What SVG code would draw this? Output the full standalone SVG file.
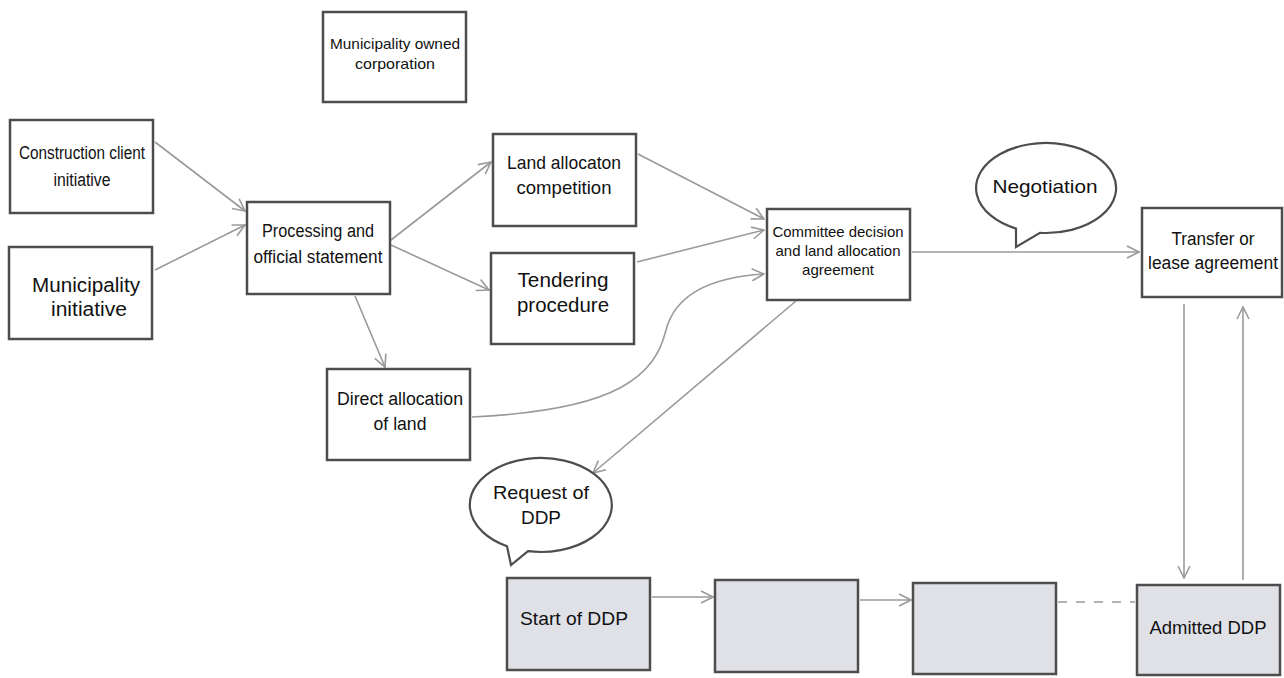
<svg xmlns="http://www.w3.org/2000/svg" width="1284" height="678" viewBox="0 0 1284 678">
<style>
.box{fill:#ffffff;stroke:#4d4d4d;stroke-width:2.5}
.grey{fill:#dfe1e7;stroke:#4d4d4d;stroke-width:2.5}
.bub{fill:#ffffff;stroke:#4d4d4d;stroke-width:2.2}
.t{font-family:"Liberation Sans","Open Sans",Arial,sans-serif;fill:#111;text-anchor:middle}
.c{fill:none;stroke:#9a9a9a;stroke-width:1.6}
.dash{stroke-dasharray:9 9}
</style>
<defs>
<marker id="ah" viewBox="0 0 14 14" refX="13" refY="7" markerWidth="14" markerHeight="14" markerUnits="userSpaceOnUse" orient="auto">
<path d="M1,1 L13,7 L1,13" fill="none" stroke="#9a9a9a" stroke-width="1.6"/>
</marker>
</defs>
<rect width="1284" height="678" fill="#ffffff"/>
<g id="connectors">
<line class="c" x1="155" y1="142" x2="245" y2="211" marker-end="url(#ah)"/>
<line class="c" x1="155" y1="270" x2="245" y2="225" marker-end="url(#ah)"/>
<line class="c" x1="391" y1="240" x2="491" y2="162" marker-end="url(#ah)"/>
<line class="c" x1="391" y1="245" x2="489" y2="290" marker-end="url(#ah)"/>
<line class="c" x1="355" y1="296" x2="385" y2="367" marker-end="url(#ah)"/>
<line class="c" x1="638" y1="154" x2="764" y2="219" marker-end="url(#ah)"/>
<line class="c" x1="637" y1="262" x2="764" y2="230" marker-end="url(#ah)"/>
<path class="c" d="M472,417 C620,410 655,375 666,330 C676,292 715,277 764,274" marker-end="url(#ah)"/>
<line class="c" x1="796" y1="301" x2="593" y2="473" marker-end="url(#ah)"/>
<line class="c" x1="912" y1="252" x2="1139" y2="252" marker-end="url(#ah)"/>
<line class="c" x1="1184" y1="304" x2="1184" y2="578" marker-end="url(#ah)"/>
<line class="c" x1="1243" y1="580" x2="1243" y2="307" marker-end="url(#ah)"/>
<line class="c" x1="652" y1="597" x2="713" y2="597" marker-end="url(#ah)"/>
<line class="c" x1="860" y1="600" x2="911" y2="600" marker-end="url(#ah)"/>
<line class="c dash" x1="1058" y1="602" x2="1135" y2="602"/>
</g>
<g id="n-corporation">
<rect class="box" x="323" y="12" width="143" height="90"/>
<text class="t" x="395" y="49" font-size="15" textLength="130" lengthAdjust="spacingAndGlyphs">Municipality owned</text>
<text class="t" x="395" y="69" font-size="15" textLength="80" lengthAdjust="spacingAndGlyphs">corporation</text>
</g>
<g id="n-client">
<rect class="box" x="10" y="120" width="143" height="93"/>
<text class="t" x="82" y="159" font-size="18" textLength="126" lengthAdjust="spacingAndGlyphs">Construction client</text>
<text class="t" x="82" y="186" font-size="18" textLength="57" lengthAdjust="spacingAndGlyphs">initiative</text>
</g>
<g id="n-municipality">
<rect class="box" x="9" y="247" width="143" height="92"/>
<text class="t" x="86" y="292" font-size="20" textLength="108" lengthAdjust="spacingAndGlyphs">Municipality</text>
<text class="t" x="89" y="316" font-size="20" textLength="76" lengthAdjust="spacingAndGlyphs">initiative</text>
</g>
<g id="n-processing">
<rect class="box" x="247" y="202" width="143" height="92"/>
<text class="t" x="318" y="237" font-size="18" textLength="112" lengthAdjust="spacingAndGlyphs">Processing and</text>
<text class="t" x="318" y="263" font-size="18" textLength="129" lengthAdjust="spacingAndGlyphs">official statement</text>
</g>
<g id="n-competition">
<rect class="box" x="493" y="134" width="143" height="92"/>
<text class="t" x="564" y="169" font-size="19" textLength="114" lengthAdjust="spacingAndGlyphs">Land allocaton</text>
<text class="t" x="564" y="194" font-size="19" textLength="95" lengthAdjust="spacingAndGlyphs">competition</text>
</g>
<g id="n-tendering">
<rect class="box" x="491" y="253" width="143" height="91"/>
<text class="t" x="563" y="287" font-size="20" textLength="91" lengthAdjust="spacingAndGlyphs">Tendering</text>
<text class="t" x="563" y="312" font-size="20" textLength="92" lengthAdjust="spacingAndGlyphs">procedure</text>
</g>
<g id="n-committee">
<rect class="box" x="767" y="209" width="143" height="91"/>
<text class="t" x="838" y="237" font-size="14.5" textLength="131" lengthAdjust="spacingAndGlyphs">Committee decision</text>
<text class="t" x="838" y="256" font-size="14.5" textLength="125" lengthAdjust="spacingAndGlyphs">and land allocation</text>
<text class="t" x="838" y="275" font-size="14.5" textLength="72" lengthAdjust="spacingAndGlyphs">agreement</text>
</g>
<g id="n-negotiation">
<path class="bub" d="M1016,228.6 L1016,247 L1040,232.8 A70,45 0 1 0 1016,228.6 Z"/>
<text class="t" x="1045" y="193" font-size="19" textLength="105" lengthAdjust="spacingAndGlyphs">Negotiation</text>
</g>
<g id="n-transfer">
<rect class="box" x="1142" y="208" width="140" height="89"/>
<text class="t" x="1213" y="245" font-size="18" textLength="83" lengthAdjust="spacingAndGlyphs">Transfer or</text>
<text class="t" x="1213" y="269" font-size="18" textLength="130" lengthAdjust="spacingAndGlyphs">lease agreement</text>
</g>
<g id="n-direct">
<rect class="box" x="327" y="369" width="143" height="91"/>
<text class="t" x="400" y="405" font-size="18" textLength="126" lengthAdjust="spacingAndGlyphs">Direct allocation</text>
<text class="t" x="400" y="430" font-size="18" textLength="53" lengthAdjust="spacingAndGlyphs">of land</text>
</g>
<g id="n-request">
<path class="bub" d="M507,546.3 L511,565 L528,551.2 A71,47 0 1 0 507,546.3 Z"/>
<text class="t" x="541" y="499" font-size="19" textLength="96" lengthAdjust="spacingAndGlyphs">Request of</text>
<text class="t" x="541" y="524" font-size="19" textLength="40" lengthAdjust="spacingAndGlyphs">DDP</text>
</g>
<g id="n-start">
<rect class="grey" x="507" y="578" width="143" height="92"/>
<text class="t" x="574" y="625" font-size="19" textLength="108" lengthAdjust="spacingAndGlyphs">Start of DDP</text>
</g>
<g id="n-step2">
<rect class="grey" x="715" y="580" width="143" height="92"/>
</g>
<g id="n-step3">
<rect class="grey" x="913" y="583" width="143" height="91"/>
</g>
<g id="n-admitted">
<rect class="grey" x="1137" y="585" width="143" height="90"/>
<text class="t" x="1208" y="634" font-size="18" textLength="117" lengthAdjust="spacingAndGlyphs">Admitted DDP</text>
</g>
</svg>
